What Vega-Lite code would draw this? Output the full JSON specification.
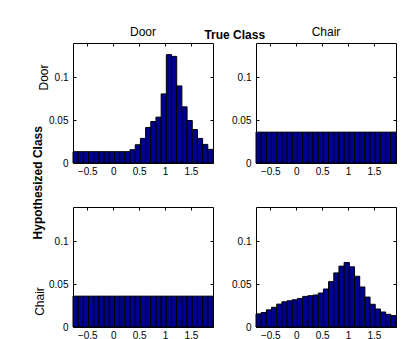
{
  "$schema": "https://vega.github.io/schema/vega-lite/v6.json",
  "padding": {"left": 31, "top": 25, "right": 5, "bottom": 0},
  "background": "white",
  "config": {
    "font": "Liberation Sans",
    "view": {"stroke": "black", "strokeWidth": 1},
    "axis": {"grid": false, "domain": false, "tickColor": "black", "tickSize": -3, "labelColor": "black", "labelFontSize": 10, "labelFont": "Liberation Sans", "titleFont": "Liberation Sans", "titleFontWeight": "normal", "titleFontSize": 12, "titleColor": "black", "labelPadding": 6},
    "axisLeft": {"labelPadding": 8},
    "axisTop": {"labelPadding": 0, "minExtent": 0, "maxExtent": 0},
    "axisRight": {"labelPadding": 0, "minExtent": 0, "maxExtent": 0},
    "title": {"font": "Liberation Sans", "color": "black"}
  },
  "data": {"values": [
    {"t":"Door","h":"Door","a":-0.775,"b":-0.675,"p":0.0132},
    {"t":"Door","h":"Door","a":-0.675,"b":-0.575,"p":0.0132},
    {"t":"Door","h":"Door","a":-0.575,"b":-0.475,"p":0.0132},
    {"t":"Door","h":"Door","a":-0.475,"b":-0.375,"p":0.0132},
    {"t":"Door","h":"Door","a":-0.375,"b":-0.275,"p":0.0132},
    {"t":"Door","h":"Door","a":-0.275,"b":-0.175,"p":0.0132},
    {"t":"Door","h":"Door","a":-0.175,"b":-0.075,"p":0.0132},
    {"t":"Door","h":"Door","a":-0.075,"b":0.025,"p":0.0132},
    {"t":"Door","h":"Door","a":0.025,"b":0.125,"p":0.0132},
    {"t":"Door","h":"Door","a":0.125,"b":0.225,"p":0.0132},
    {"t":"Door","h":"Door","a":0.225,"b":0.325,"p":0.0132},
    {"t":"Door","h":"Door","a":0.325,"b":0.425,"p":0.0155},
    {"t":"Door","h":"Door","a":0.425,"b":0.525,"p":0.0213},
    {"t":"Door","h":"Door","a":0.525,"b":0.625,"p":0.0287},
    {"t":"Door","h":"Door","a":0.625,"b":0.725,"p":0.0415},
    {"t":"Door","h":"Door","a":0.725,"b":0.825,"p":0.0484},
    {"t":"Door","h":"Door","a":0.825,"b":0.925,"p":0.0535},
    {"t":"Door","h":"Door","a":0.925,"b":1.025,"p":0.0806},
    {"t":"Door","h":"Door","a":1.025,"b":1.125,"p":0.1264},
    {"t":"Door","h":"Door","a":1.125,"b":1.225,"p":0.1244},
    {"t":"Door","h":"Door","a":1.225,"b":1.325,"p":0.0899},
    {"t":"Door","h":"Door","a":1.325,"b":1.425,"p":0.0655},
    {"t":"Door","h":"Door","a":1.425,"b":1.525,"p":0.0496},
    {"t":"Door","h":"Door","a":1.525,"b":1.625,"p":0.0391},
    {"t":"Door","h":"Door","a":1.625,"b":1.725,"p":0.0287},
    {"t":"Door","h":"Door","a":1.725,"b":1.825,"p":0.0217},
    {"t":"Door","h":"Door","a":1.825,"b":1.925,"p":0.0159},

    {"t":"Chair","h":"Door","a":-0.775,"b":-0.675,"p":0.036},
    {"t":"Chair","h":"Door","a":-0.675,"b":-0.575,"p":0.036},
    {"t":"Chair","h":"Door","a":-0.575,"b":-0.475,"p":0.036},
    {"t":"Chair","h":"Door","a":-0.475,"b":-0.375,"p":0.036},
    {"t":"Chair","h":"Door","a":-0.375,"b":-0.275,"p":0.036},
    {"t":"Chair","h":"Door","a":-0.275,"b":-0.175,"p":0.036},
    {"t":"Chair","h":"Door","a":-0.175,"b":-0.075,"p":0.036},
    {"t":"Chair","h":"Door","a":-0.075,"b":0.025,"p":0.036},
    {"t":"Chair","h":"Door","a":0.025,"b":0.125,"p":0.036},
    {"t":"Chair","h":"Door","a":0.125,"b":0.225,"p":0.036},
    {"t":"Chair","h":"Door","a":0.225,"b":0.325,"p":0.036},
    {"t":"Chair","h":"Door","a":0.325,"b":0.425,"p":0.036},
    {"t":"Chair","h":"Door","a":0.425,"b":0.525,"p":0.036},
    {"t":"Chair","h":"Door","a":0.525,"b":0.625,"p":0.036},
    {"t":"Chair","h":"Door","a":0.625,"b":0.725,"p":0.036},
    {"t":"Chair","h":"Door","a":0.725,"b":0.825,"p":0.036},
    {"t":"Chair","h":"Door","a":0.825,"b":0.925,"p":0.036},
    {"t":"Chair","h":"Door","a":0.925,"b":1.025,"p":0.036},
    {"t":"Chair","h":"Door","a":1.025,"b":1.125,"p":0.036},
    {"t":"Chair","h":"Door","a":1.125,"b":1.225,"p":0.036},
    {"t":"Chair","h":"Door","a":1.225,"b":1.325,"p":0.036},
    {"t":"Chair","h":"Door","a":1.325,"b":1.425,"p":0.036},
    {"t":"Chair","h":"Door","a":1.425,"b":1.525,"p":0.036},
    {"t":"Chair","h":"Door","a":1.525,"b":1.625,"p":0.036},
    {"t":"Chair","h":"Door","a":1.625,"b":1.725,"p":0.036},
    {"t":"Chair","h":"Door","a":1.725,"b":1.825,"p":0.036},
    {"t":"Chair","h":"Door","a":1.825,"b":1.925,"p":0.036},

    {"t":"Door","h":"Chair","a":-0.775,"b":-0.675,"p":0.036},
    {"t":"Door","h":"Chair","a":-0.675,"b":-0.575,"p":0.036},
    {"t":"Door","h":"Chair","a":-0.575,"b":-0.475,"p":0.036},
    {"t":"Door","h":"Chair","a":-0.475,"b":-0.375,"p":0.036},
    {"t":"Door","h":"Chair","a":-0.375,"b":-0.275,"p":0.036},
    {"t":"Door","h":"Chair","a":-0.275,"b":-0.175,"p":0.036},
    {"t":"Door","h":"Chair","a":-0.175,"b":-0.075,"p":0.036},
    {"t":"Door","h":"Chair","a":-0.075,"b":0.025,"p":0.036},
    {"t":"Door","h":"Chair","a":0.025,"b":0.125,"p":0.036},
    {"t":"Door","h":"Chair","a":0.125,"b":0.225,"p":0.036},
    {"t":"Door","h":"Chair","a":0.225,"b":0.325,"p":0.036},
    {"t":"Door","h":"Chair","a":0.325,"b":0.425,"p":0.036},
    {"t":"Door","h":"Chair","a":0.425,"b":0.525,"p":0.036},
    {"t":"Door","h":"Chair","a":0.525,"b":0.625,"p":0.036},
    {"t":"Door","h":"Chair","a":0.625,"b":0.725,"p":0.036},
    {"t":"Door","h":"Chair","a":0.725,"b":0.825,"p":0.036},
    {"t":"Door","h":"Chair","a":0.825,"b":0.925,"p":0.036},
    {"t":"Door","h":"Chair","a":0.925,"b":1.025,"p":0.036},
    {"t":"Door","h":"Chair","a":1.025,"b":1.125,"p":0.036},
    {"t":"Door","h":"Chair","a":1.125,"b":1.225,"p":0.036},
    {"t":"Door","h":"Chair","a":1.225,"b":1.325,"p":0.036},
    {"t":"Door","h":"Chair","a":1.325,"b":1.425,"p":0.036},
    {"t":"Door","h":"Chair","a":1.425,"b":1.525,"p":0.036},
    {"t":"Door","h":"Chair","a":1.525,"b":1.625,"p":0.036},
    {"t":"Door","h":"Chair","a":1.625,"b":1.725,"p":0.036},
    {"t":"Door","h":"Chair","a":1.725,"b":1.825,"p":0.036},
    {"t":"Door","h":"Chair","a":1.825,"b":1.925,"p":0.036},

    {"t":"Chair","h":"Chair","a":-0.775,"b":-0.675,"p":0.0153},
    {"t":"Chair","h":"Chair","a":-0.675,"b":-0.575,"p":0.0169},
    {"t":"Chair","h":"Chair","a":-0.575,"b":-0.475,"p":0.0200},
    {"t":"Chair","h":"Chair","a":-0.475,"b":-0.375,"p":0.0230},
    {"t":"Chair","h":"Chair","a":-0.375,"b":-0.275,"p":0.0267},
    {"t":"Chair","h":"Chair","a":-0.275,"b":-0.175,"p":0.0294},
    {"t":"Chair","h":"Chair","a":-0.175,"b":-0.075,"p":0.0306},
    {"t":"Chair","h":"Chair","a":-0.075,"b":0.025,"p":0.0318},
    {"t":"Chair","h":"Chair","a":0.025,"b":0.125,"p":0.0333},
    {"t":"Chair","h":"Chair","a":0.125,"b":0.225,"p":0.0357},
    {"t":"Chair","h":"Chair","a":0.225,"b":0.325,"p":0.0365},
    {"t":"Chair","h":"Chair","a":0.325,"b":0.425,"p":0.0373},
    {"t":"Chair","h":"Chair","a":0.425,"b":0.525,"p":0.0396},
    {"t":"Chair","h":"Chair","a":0.525,"b":0.625,"p":0.0443},
    {"t":"Chair","h":"Chair","a":0.625,"b":0.725,"p":0.0529},
    {"t":"Chair","h":"Chair","a":0.725,"b":0.825,"p":0.0631},
    {"t":"Chair","h":"Chair","a":0.825,"b":0.925,"p":0.0710},
    {"t":"Chair","h":"Chair","a":0.925,"b":1.025,"p":0.0753},
    {"t":"Chair","h":"Chair","a":1.025,"b":1.125,"p":0.0702},
    {"t":"Chair","h":"Chair","a":1.125,"b":1.225,"p":0.0592},
    {"t":"Chair","h":"Chair","a":1.225,"b":1.325,"p":0.0467},
    {"t":"Chair","h":"Chair","a":1.325,"b":1.425,"p":0.0349},
    {"t":"Chair","h":"Chair","a":1.425,"b":1.525,"p":0.0265},
    {"t":"Chair","h":"Chair","a":1.525,"b":1.625,"p":0.0210},
    {"t":"Chair","h":"Chair","a":1.625,"b":1.725,"p":0.0175},
    {"t":"Chair","h":"Chair","a":1.725,"b":1.825,"p":0.0148},
    {"t":"Chair","h":"Chair","a":1.825,"b":1.925,"p":0.0133}
  ]},
  "title": {"text": "Hypothesized Class", "orient": "left", "anchor": "middle", "fontSize": 12, "fontWeight": "bold", "offset": -12},
  "spacing": 29,
  "vconcat": [
    {
      "title": {"text": "True Class", "anchor": "middle", "dx": 18, "fontSize": 12, "fontWeight": "bold", "offset": -17},
      "bounds": "flush",
      "spacing": 43,
      "hconcat": [
        {
          "width": 140, "height": 120,
          "title": {"text": "Door", "fontSize": 12, "fontWeight": "normal", "offset": -5, "baseline": "alphabetic"},
          "transform": [{"filter": "datum.t === 'Door' && datum.h === 'Door'"}],
          "layer": [
            {"mark": {"type": "rect", "fill": "#00008F", "stroke": "black", "strokeWidth": 1},
             "encoding": {
               "x": {"field": "a", "type": "quantitative", "scale": {"domain": [-0.775, 1.925], "nice": false, "zero": false}, "axis": {"values": [-0.5, 0, 0.5, 1, 1.5], "format": "~g", "title": null}},
               "x2": {"field": "b"},
               "y": {"field": "p", "type": "quantitative", "scale": {"domain": [0, 0.14], "nice": false}, "axis": {"values": [0, 0.05, 0.1], "format": "~g", "title": "Door", "titleX": -30, "titleY": 34, "titleAlign": "center", "titleBaseline": "middle"}},
               "y2": {"datum": 0}
             }},
            {"mark": {"type": "rect", "opacity": 0},
             "encoding": {
               "x": {"field": "a", "type": "quantitative", "scale": {"domain": [-0.775, 1.925], "nice": false, "zero": false}, "axis": {"orient": "top", "values": [-0.5, 0, 0.5, 1, 1.5], "labels": false, "title": null}},
               "x2": {"field": "b"},
               "y": {"field": "p", "type": "quantitative", "scale": {"domain": [0, 0.14], "nice": false}, "axis": {"orient": "right", "values": [0, 0.05, 0.1], "labels": false, "title": null}},
               "y2": {"datum": 0}
             }}
          ],
          "resolve": {"axis": {"x": "independent", "y": "independent"}}
        },
        {
          "width": 140, "height": 120,
          "title": {"text": "Chair", "fontSize": 12, "fontWeight": "normal", "offset": -5, "baseline": "alphabetic"},
          "transform": [{"filter": "datum.t === 'Chair' && datum.h === 'Door'"}],
          "layer": [
            {"mark": {"type": "rect", "fill": "#00008F", "stroke": "black", "strokeWidth": 1},
             "encoding": {
               "x": {"field": "a", "type": "quantitative", "scale": {"domain": [-0.775, 1.925], "nice": false, "zero": false}, "axis": {"values": [-0.5, 0, 0.5, 1, 1.5], "format": "~g", "title": null}},
               "x2": {"field": "b"},
               "y": {"field": "p", "type": "quantitative", "scale": {"domain": [0, 0.14], "nice": false}, "axis": {"values": [0, 0.05, 0.1], "format": "~g", "title": null}},
               "y2": {"datum": 0}
             }},
            {"mark": {"type": "rect", "opacity": 0},
             "encoding": {
               "x": {"field": "a", "type": "quantitative", "scale": {"domain": [-0.775, 1.925], "nice": false, "zero": false}, "axis": {"orient": "top", "values": [-0.5, 0, 0.5, 1, 1.5], "labels": false, "title": null}},
               "x2": {"field": "b"},
               "y": {"field": "p", "type": "quantitative", "scale": {"domain": [0, 0.14], "nice": false}, "axis": {"orient": "right", "values": [0, 0.05, 0.1], "labels": false, "title": null}},
               "y2": {"datum": 0}
             }}
          ],
          "resolve": {"axis": {"x": "independent", "y": "independent"}}
        }
      ]
    },
    {
      "bounds": "flush",
      "spacing": 43,
      "hconcat": [
        {
          "width": 140, "height": 120,
          "transform": [{"filter": "datum.t === 'Door' && datum.h === 'Chair'"}],
          "layer": [
            {"mark": {"type": "rect", "fill": "#00008F", "stroke": "black", "strokeWidth": 1},
             "encoding": {
               "x": {"field": "a", "type": "quantitative", "scale": {"domain": [-0.775, 1.925], "nice": false, "zero": false}, "axis": {"values": [-0.5, 0, 0.5, 1, 1.5], "format": "~g", "title": null}},
               "x2": {"field": "b"},
               "y": {"field": "p", "type": "quantitative", "scale": {"domain": [0, 0.14], "nice": false}, "axis": {"values": [0, 0.05, 0.1], "format": "~g", "title": "Chair", "titleX": -34, "titleY": 94, "titleAlign": "center", "titleBaseline": "middle"}},
               "y2": {"datum": 0}
             }},
            {"mark": {"type": "rect", "opacity": 0},
             "encoding": {
               "x": {"field": "a", "type": "quantitative", "scale": {"domain": [-0.775, 1.925], "nice": false, "zero": false}, "axis": {"orient": "top", "values": [-0.5, 0, 0.5, 1, 1.5], "labels": false, "title": null}},
               "x2": {"field": "b"},
               "y": {"field": "p", "type": "quantitative", "scale": {"domain": [0, 0.14], "nice": false}, "axis": {"orient": "right", "values": [0, 0.05, 0.1], "labels": false, "title": null}},
               "y2": {"datum": 0}
             }}
          ],
          "resolve": {"axis": {"x": "independent", "y": "independent"}}
        },
        {
          "width": 140, "height": 120,
          "transform": [{"filter": "datum.t === 'Chair' && datum.h === 'Chair'"}],
          "layer": [
            {"mark": {"type": "rect", "fill": "#00008F", "stroke": "black", "strokeWidth": 1},
             "encoding": {
               "x": {"field": "a", "type": "quantitative", "scale": {"domain": [-0.775, 1.925], "nice": false, "zero": false}, "axis": {"values": [-0.5, 0, 0.5, 1, 1.5], "format": "~g", "title": null}},
               "x2": {"field": "b"},
               "y": {"field": "p", "type": "quantitative", "scale": {"domain": [0, 0.14], "nice": false}, "axis": {"values": [0, 0.05, 0.1], "format": "~g", "title": null}},
               "y2": {"datum": 0}
             }},
            {"mark": {"type": "rect", "opacity": 0},
             "encoding": {
               "x": {"field": "a", "type": "quantitative", "scale": {"domain": [-0.775, 1.925], "nice": false, "zero": false}, "axis": {"orient": "top", "values": [-0.5, 0, 0.5, 1, 1.5], "labels": false, "title": null}},
               "x2": {"field": "b"},
               "y": {"field": "p", "type": "quantitative", "scale": {"domain": [0, 0.14], "nice": false}, "axis": {"orient": "right", "values": [0, 0.05, 0.1], "labels": false, "title": null}},
               "y2": {"datum": 0}
             }}
          ],
          "resolve": {"axis": {"x": "independent", "y": "independent"}}
        }
      ]
    }
  ]
}
